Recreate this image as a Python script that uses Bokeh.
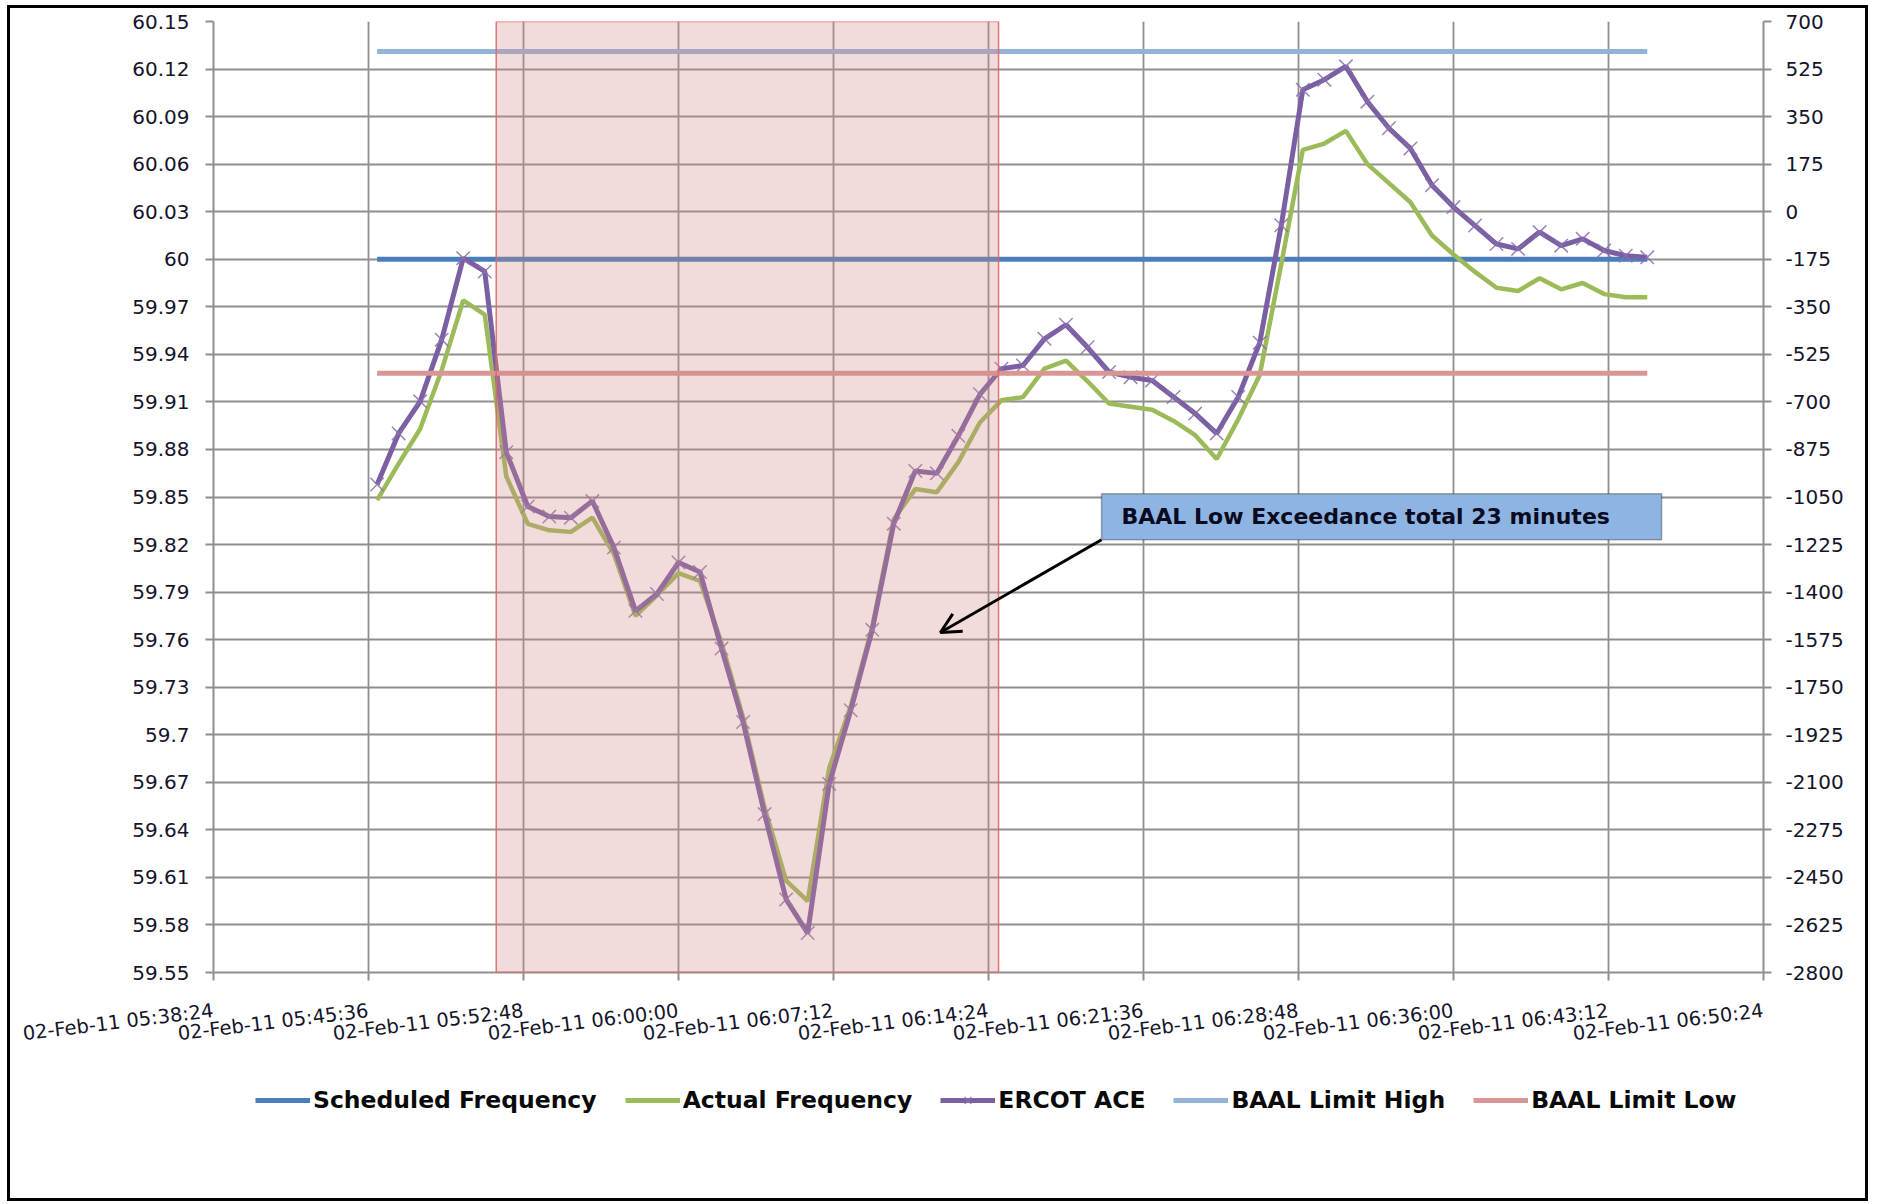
import pandas as pd
from bokeh.plotting import figure
from bokeh.layouts import column
from bokeh.models import (Range1d, LinearAxis, FixedTicker, NumeralTickFormatter,
                          DatetimeTickFormatter, BoxAnnotation, Label, Arrow, OpenHead,
                          Legend, LegendItem, ColumnDataSource)
from bokeh.embed import file_html
from bokeh.resources import INLINE

# ---------------- data ----------------
first_sample = "2011-02-02 05:46:00"
times = pd.date_range(first_sample, periods=60, freq="min")

actual_frequency = [
    59.848, 59.871, 59.893, 59.930, 59.974, 59.965, 59.863, 59.833, 59.829, 59.828,
    59.837, 59.814, 59.775, 59.788, 59.802, 59.797, 59.758, 59.711, 59.654, 59.608,
    59.595, 59.679, 59.718, 59.768, 59.836, 59.855, 59.853, 59.872, 59.897, 59.911,
    59.913, 59.931, 59.936, 59.923, 59.909, 59.907, 59.905, 59.898, 59.889, 59.874,
    59.899, 59.927, 59.997, 60.069, 60.073, 60.081, 60.060, 60.048, 60.036, 60.015,
    60.003, 59.992, 59.982, 59.980, 59.988, 59.981, 59.985, 59.978, 59.976, 59.976,
]
ercot_ace = [
    -1004, -816, -698, -471, -171, -220, -885, -1085, -1122, -1126,
    -1065, -1236, -1469, -1407, -1291, -1326, -1608, -1878, -2217, -2531,
    -2655, -2106, -1835, -1539, -1148, -954, -963, -825, -672, -578,
    -566, -468, -416, -499, -590, -609, -621, -682, -743, -816,
    -682, -482, -50, 449, 486, 535, 405, 307, 233, 97,
    17, -51, -119, -137, -75, -125, -100, -143, -162, -168,
]
scheduled_frequency = 60.0
baal_limit_high = 60.131
baal_limit_low = 59.928

series_names = ["Scheduled Frequency", "Actual Frequency", "ERCOT ACE",
                "BAAL Limit High", "BAAL Limit Low"]
series_colors = ["#4a7ebb", "#9bbb59", "#7b5fa3", "#95b3d7", "#d99694"]
marker_color = "#8a70ae"

x_tick_times = pd.date_range("2011-02-02 05:38:24", periods=11, freq="432s")
freq_ticks = [round(59.55 + 0.03 * i, 2) for i in range(21)]
ace_ticks = [-2800 + 175 * i for i in range(21)]

exceedance_start = "2011-02-02 05:51:32"
exceedance_end = "2011-02-02 06:14:52"
note_text = "BAAL Low Exceedance total 23 minutes"
note_left, note_right = "2011-02-02 06:19:39", "2011-02-02 06:45:40"
note_top, note_bottom = 59.852, 59.823
arrow_tip_time, arrow_tip_freq = "2011-02-02 06:12:10", 59.7645


def ms(t):
    return pd.Timestamp(t).value / 1e6


# ---------------- main figure ----------------
src = ColumnDataSource(dict(
    t=list(times),
    f=actual_frequency,
    ace=ercot_ace,
    sched=[scheduled_frequency] * len(times),
    hi=[baal_limit_high] * len(times),
    lo=[baal_limit_low] * len(times),
))

p = figure(frame_width=1550, frame_height=951, x_axis_type="datetime",
           x_range=Range1d(ms(x_tick_times[0]), ms(x_tick_times[-1])),
           y_range=Range1d(59.55, 60.15),
           output_backend="svg", toolbar_location=None,
           min_border_left=203, min_border_right=102, min_border_top=13,
           min_border_bottom=96)
p.outline_line_color = None
p.background_fill_color = "white"
p.border_fill_color = "white"
p.extra_y_ranges = {"ace": Range1d(-2800, 700)}

grid_color = "#8f8f8f"
label_color = "#14142a"

xa = p.xaxis[0]
xa.ticker = FixedTicker(ticks=[ms(t) for t in x_tick_times])
fmt = "%d-%b-%y %H:%M:%S"
xa.formatter = DatetimeTickFormatter(milliseconds=fmt, seconds=fmt, minsec=fmt, minutes=fmt,
                                     hourmin=fmt, hours=fmt, days=fmt, months=fmt, years=fmt)
xa.major_label_orientation = 0.122
xa.major_label_text_font = "DejaVu Sans"
xa.major_label_text_font_size = "19.5px"
xa.major_label_standoff = 30

ya = p.yaxis[0]
ya.ticker = FixedTicker(ticks=freq_ticks)
ya.formatter = NumeralTickFormatter(format="0.[00]")
ya.major_label_text_font = "DejaVu Sans"
ya.major_label_text_font_size = "20px"
ya.major_label_standoff = 16

ra = LinearAxis(y_range_name="ace", ticker=FixedTicker(ticks=ace_ticks),
                formatter=NumeralTickFormatter(format="0"))
ra.major_label_text_font = "DejaVu Sans"
ra.major_label_text_font_size = "20px"
ra.major_label_standoff = 14
p.add_layout(ra, "right")

for ax in (xa, ya, ra):
    ax.axis_line_color = grid_color
    ax.axis_line_width = 2
    ax.major_tick_line_color = grid_color
    ax.major_tick_line_width = 2
    ax.major_tick_out = 8
    ax.major_tick_in = 0
    ax.minor_tick_line_color = None
    ax.major_label_text_color = label_color

for g in (p.xgrid[0], p.ygrid[0]):
    g.grid_line_color = grid_color
    g.grid_line_width = 1.8
p.xgrid[0].ticker = xa.ticker
p.ygrid[0].ticker = ya.ticker

# series (Excel drawing order)
p.line("t", "sched", source=src, line_color=series_colors[0], line_width=5)
p.line("t", "f", source=src, line_color=series_colors[1], line_width=4.5)
p.line("t", "ace", source=src, y_range_name="ace", line_color=series_colors[2], line_width=5)
p.scatter("t", "ace", source=src, y_range_name="ace", marker="x", size=19,
          line_color=marker_color, line_width=1.5, line_alpha=0.85)
p.line("t", "hi", source=src, line_color=series_colors[3], line_width=5)
p.line("t", "lo", source=src, line_color=series_colors[4], line_width=5)

# shaded exceedance window
p.add_layout(BoxAnnotation(left=ms(exceedance_start), right=ms(exceedance_end),
                           fill_color="#d48a87", fill_alpha=0.3,
                           line_color="#e06666", line_width=1.5, line_alpha=0.9))

# callout
p.add_layout(Arrow(end=OpenHead(size=20, line_width=3, line_color="black"),
                   x_start=ms(note_left), y_start=note_bottom,
                   x_end=ms(arrow_tip_time), y_end=arrow_tip_freq,
                   line_width=3, line_color="black"))
p.add_layout(BoxAnnotation(left=ms(note_left), right=ms(note_right),
                           top=note_top, bottom=note_bottom,
                           fill_color="#8db4e2", fill_alpha=1.0,
                           line_color="black", line_width=1.5))
p.add_layout(Label(x=ms(note_left), y=(note_top + note_bottom) / 2, x_offset=20,
                   text=note_text, text_font="DejaVu Sans", text_font_size="22px",
                   text_font_style="bold", text_baseline="middle", text_color="#0a0a20"))

# ---------------- legend strip ----------------
leg_fig = figure(width=1855, height=130, x_range=Range1d(0, 1), y_range=Range1d(0, 1),
                 output_backend="svg", toolbar_location=None, min_border=0)
leg_fig.axis.visible = False
leg_fig.grid.visible = False
leg_fig.outline_line_color = None
leg_fig.border_fill_color = "white"

# legend swatches only (their points lie outside the strip's visible range)
offscreen = [5, 6]
items = []
for i, (name, color) in enumerate(zip(series_names, series_colors)):
    rs = [leg_fig.line(offscreen, offscreen, line_color=color, line_width=5)]
    if i == 2:
        rs.append(leg_fig.scatter(offscreen, offscreen, marker="x", size=19,
                                  line_color=marker_color, line_width=1.5, line_alpha=0.85))
    items.append(LegendItem(label=name, renderers=rs))

legend = Legend(items=items, orientation="horizontal", location=(42, 84))
legend.label_text_font = "DejaVu Sans"
legend.label_text_font_size = "23.5px"
legend.label_text_font_style = "bold"
legend.label_text_color = "#0a0a0a"
legend.glyph_width = 55
legend.glyph_height = 24
legend.label_standoff = 3
legend.spacing = 28
legend.padding = 0
legend.margin = 0
legend.border_line_color = None
legend.background_fill_alpha = 0
leg_fig.add_layout(legend)

layout = column(p, leg_fig, spacing=0)
layout.styles = {"border": "3px solid black", "margin-left": "7px", "margin-top": "5px"}

open("out.html", "w").write(file_html(layout, INLINE))
